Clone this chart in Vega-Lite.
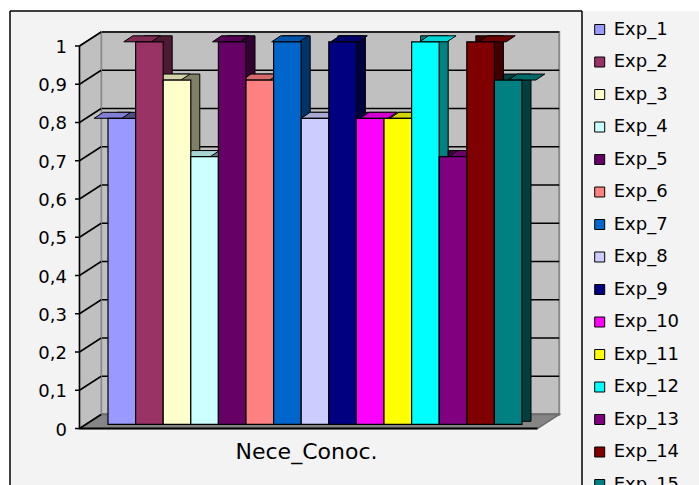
{
  "$schema": "https://vega.github.io/schema/vega-lite/v6.json",
  "width": 689,
  "height": 474,
  "autosize": "none",
  "padding": {"left": 10, "top": 11, "right": 0, "bottom": 0},
  "background": "white",
  "config": {
    "view": {"fill": "#F3F3F3", "stroke": null},
    "font": "DejaVu Sans",
    "locale": {"number": {"decimal": ",", "thousands": ".", "grouping": [3], "currency": ["", " €"]}}
  },
  "datasets": {
    "experts": [
      {"cat": "Nece_Conoc.", "exp": "Exp_1", "value": 0.8},
      {"cat": "Nece_Conoc.", "exp": "Exp_2", "value": 1.0},
      {"cat": "Nece_Conoc.", "exp": "Exp_3", "value": 0.9},
      {"cat": "Nece_Conoc.", "exp": "Exp_4", "value": 0.7},
      {"cat": "Nece_Conoc.", "exp": "Exp_5", "value": 1.0},
      {"cat": "Nece_Conoc.", "exp": "Exp_6", "value": 0.9},
      {"cat": "Nece_Conoc.", "exp": "Exp_7", "value": 1.0},
      {"cat": "Nece_Conoc.", "exp": "Exp_8", "value": 0.8},
      {"cat": "Nece_Conoc.", "exp": "Exp_9", "value": 1.0},
      {"cat": "Nece_Conoc.", "exp": "Exp_10", "value": 0.8},
      {"cat": "Nece_Conoc.", "exp": "Exp_11", "value": 0.8},
      {"cat": "Nece_Conoc.", "exp": "Exp_12", "value": 1.0},
      {"cat": "Nece_Conoc.", "exp": "Exp_13", "value": 0.7},
      {"cat": "Nece_Conoc.", "exp": "Exp_14", "value": 1.0},
      {"cat": "Nece_Conoc.", "exp": "Exp_15", "value": 0.9}
    ],
    "ticks": [
      {"v": 0}, {"v": 0.1}, {"v": 0.2}, {"v": 0.3}, {"v": 0.4}, {"v": 0.5},
      {"v": 0.6}, {"v": 0.7}, {"v": 0.8}, {"v": 0.9}, {"v": 1}
    ]
  },
  "data": {"name": "experts"},
  "resolve": {
    "scale": {"x": "independent", "xOffset": "independent", "color": "independent"},
    "axis": {"x": "independent"},
    "legend": {"color": "independent"}
  },
  "layer": [
    {
      "data": {"values": [{}]},
      "mark": {"type": "rect", "fill": "#C0C0C0", "stroke": "#8A8A8A", "strokeWidth": 2,
               "xOffset": 21.7, "x2Offset": 21.7, "yOffset": -14, "y2Offset": -14},
      "encoding": {
        "x": {"datum": 0, "type": "quantitative", "scale": {"domain": [-0.151747, 1.35262], "nice": false, "zero": false}, "axis": null},
        "x2": {"datum": 1},
        "y": {"datum": 0, "type": "quantitative", "scale": {"domain": [-0.147712, 1.091503], "nice": false, "zero": false}, "axis": null},
        "y2": {"datum": 1}
      }
    },
    {
      "data": {"name": "ticks"},
      "mark": {"type": "rule", "color": "black", "strokeWidth": 1.5,
               "xOffset": 21.7, "x2Offset": 21.7, "yOffset": -14},
      "encoding": {
        "x": {"datum": 0, "type": "quantitative", "scale": {"domain": [-0.151747, 1.35262], "nice": false, "zero": false}, "axis": null},
        "x2": {"datum": 1},
        "y": {"field": "v", "type": "quantitative", "scale": {"domain": [-0.147712, 1.091503], "nice": false, "zero": false}, "axis": null}
      }
    },
    {
      "data": {"values": [{}]},
      "mark": {"type": "point", "shape": "M0,0 L0,-382.5 L21.7,-396.5 L21.7,-14 Z", "size": 4,
               "filled": true, "fill": "#C0C0C0", "stroke": "#8A8A8A", "strokeWidth": 1.5, "opacity": 1},
      "encoding": {
        "x": {"datum": 0, "type": "quantitative", "scale": {"domain": [-0.151747, 1.35262], "nice": false, "zero": false}, "axis": null},
        "y": {"datum": 0, "type": "quantitative", "scale": {"domain": [-0.147712, 1.091503], "nice": false, "zero": false}, "axis": null}
      }
    },
    {
      "data": {"values": [{}]},
      "mark": {"type": "point", "shape": "M0,0 L458,0 L479.7,-14 L21.7,-14 Z", "size": 4,
               "filled": true, "fill": "#858585", "stroke": "#6E6E6E", "strokeWidth": 1.5, "opacity": 1},
      "encoding": {
        "x": {"datum": 0, "type": "quantitative", "scale": {"domain": [-0.151747, 1.35262], "nice": false, "zero": false}, "axis": null},
        "y": {"datum": 0, "type": "quantitative", "scale": {"domain": [-0.147712, 1.091503], "nice": false, "zero": false}, "axis": null}
      }
    },
    {
      "data": {"name": "ticks"},
      "mark": {"type": "rule", "color": "black", "strokeWidth": 1.5, "x2Offset": 21.7, "y2Offset": -14},
      "encoding": {
        "x": {"datum": 0, "type": "quantitative", "scale": {"domain": [-0.151747, 1.35262], "nice": false, "zero": false}, "axis": null},
        "x2": {"datum": 0},
        "y": {"field": "v", "type": "quantitative", "scale": {"domain": [-0.147712, 1.091503], "nice": false, "zero": false}, "axis": null},
        "y2": {"field": "v"}
      }
    },
    {
      "data": {"name": "ticks"},
      "mark": {"type": "rule", "color": "black", "strokeWidth": 1.5, "xOffset": -4.5},
      "encoding": {
        "x": {"datum": 0, "type": "quantitative", "scale": {"domain": [-0.151747, 1.35262], "nice": false, "zero": false}, "axis": null},
        "x2": {"datum": 0},
        "y": {"field": "v", "type": "quantitative", "scale": {"domain": [-0.147712, 1.091503], "nice": false, "zero": false}, "axis": null}
      }
    },
    {
      "data": {"name": "ticks"},
      "mark": {"type": "text", "align": "right", "baseline": "middle", "dx": -12.5, "dy": 2,
               "font": "DejaVu Sans", "fontSize": 18, "color": "black"},
      "encoding": {
        "x": {"datum": 0, "type": "quantitative", "scale": {"domain": [-0.151747, 1.35262], "nice": false, "zero": false}, "axis": null},
        "y": {"field": "v", "type": "quantitative", "scale": {"domain": [-0.147712, 1.091503], "nice": false, "zero": false}, "axis": null},
        "text": {"field": "v", "type": "quantitative", "format": ".1~f"}
      }
    },
    {
      "mark": {"type": "bar", "stroke": "black", "strokeWidth": 1, "yOffset": -10.2, "y2Offset": -7.2},
      "encoding": {
        "x": {"field": "cat", "type": "nominal", "axis": null,
              "scale": {"domain": ["Nece_Conoc."], "paddingInner": 0, "paddingOuter": 0.332126, "align": 0.389091}},
        "xOffset": {"field": "exp", "type": "nominal",
                    "scale": {"domain": ["Exp_1","Exp_2","Exp_3","Exp_4","Exp_5","Exp_6","Exp_7","Exp_8","Exp_9","Exp_10","Exp_11","Exp_12","Exp_13","Exp_14","Exp_15"], "paddingInner": 0, "paddingOuter": 0}},
        "y": {"field": "value", "type": "quantitative", "scale": {"domain": [-0.147712, 1.091503], "nice": false, "zero": false}, "axis": null},
        "y2": {"datum": 0},
        "color": {"field": "exp", "type": "nominal", "legend": null,
                  "scale": {"domain": ["Exp_1","Exp_2","Exp_3","Exp_4","Exp_5","Exp_6","Exp_7","Exp_8","Exp_9","Exp_10","Exp_11","Exp_12","Exp_13","Exp_14","Exp_15"],
                            "range": ["#4D4D80","#4D1A33","#808066","#668080","#330033","#804040","#003366","#666680","#000040","#800080","#808000","#008080","#400040","#400000","#004040"]}}
      }
    },
    {
      "mark": {"type": "point", "shape": "M-13.8,0 L13.8,0 L22.8,-6 L-4.8,-6 Z", "size": 4,
               "filled": true, "stroke": "black", "strokeWidth": 1, "opacity": 1, "yOffset": -4.2},
      "encoding": {
        "x": {"field": "cat", "type": "nominal", "axis": null,
              "scale": {"domain": ["Nece_Conoc."], "paddingInner": 0, "paddingOuter": 0.332126, "align": 0.356364}},
        "xOffset": {"field": "exp", "type": "nominal",
                    "scale": {"domain": ["Exp_1","Exp_2","Exp_3","Exp_4","Exp_5","Exp_6","Exp_7","Exp_8","Exp_9","Exp_10","Exp_11","Exp_12","Exp_13","Exp_14","Exp_15"], "paddingInner": 0, "paddingOuter": 0}},
        "y": {"field": "value", "type": "quantitative", "scale": {"domain": [-0.147712, 1.091503], "nice": false, "zero": false}, "axis": null},
        "color": {"field": "exp", "type": "nominal", "legend": null,
                  "scale": {"domain": ["Exp_1","Exp_2","Exp_3","Exp_4","Exp_5","Exp_6","Exp_7","Exp_8","Exp_9","Exp_10","Exp_11","Exp_12","Exp_13","Exp_14","Exp_15"],
                            "range": ["#7F7FD4","#7F2A55","#D4D4A9","#A9D4D4","#550055","#D46A6A","#0055A9","#A9A9D4","#00006A","#D400D4","#D4D400","#00D4D4","#6A006A","#6A0000","#006A6A"]}}
      }
    },
    {
      "mark": {"type": "bar", "stroke": "black", "strokeWidth": 1.2, "yOffset": -4.2, "y2Offset": -4.2},
      "encoding": {
        "x": {"field": "cat", "type": "nominal",
              "scale": {"domain": ["Nece_Conoc."], "paddingInner": 0, "paddingOuter": 0.332126, "align": 0.356364},
              "axis": {"title": null, "domain": false, "ticks": false, "tickSize": 0, "labelPadding": 0,
                       "labelBaseline": "alphabetic", "labelAngle": 0, "offset": -27, "labelOffset": -8.5,
                       "labelFont": "DejaVu Sans", "labelFontSize": 22, "labelColor": "black", "labelLimit": 400}},
        "xOffset": {"field": "exp", "type": "nominal",
                    "scale": {"domain": ["Exp_1","Exp_2","Exp_3","Exp_4","Exp_5","Exp_6","Exp_7","Exp_8","Exp_9","Exp_10","Exp_11","Exp_12","Exp_13","Exp_14","Exp_15"], "paddingInner": 0, "paddingOuter": 0}},
        "y": {"field": "value", "type": "quantitative",
              "scale": {"domain": [-0.147712, 1.091503], "nice": false, "zero": false}, "axis": null},
        "y2": {"datum": 0},
        "color": {"field": "exp", "type": "nominal",
                  "scale": {"domain": ["Exp_1","Exp_2","Exp_3","Exp_4","Exp_5","Exp_6","Exp_7","Exp_8","Exp_9","Exp_10","Exp_11","Exp_12","Exp_13","Exp_14","Exp_15"],
                            "range": ["#9999FF","#993366","#FFFFCC","#CCFFFF","#660066","#FF8080","#0066CC","#CCCCFF","#000080","#FF00FF","#FFFF00","#00FFFF","#800080","#800000","#008080"]},
                  "legend": {"orient": "none", "legendX": 580.7, "legendY": 9.5, "title": null, "padding": 0,
                             "symbolType": "square", "symbolSize": 100, "symbolStrokeColor": "black", "symbolStrokeWidth": 1,
                             "symbolOpacity": 1, "labelFont": "DejaVu Sans", "labelFontSize": 18, "labelColor": "black",
                             "labelOffset": 5, "rowPadding": 14.5, "labelLimit": 200}}
      }
    },
    {
      "data": {"values": [{}]},
      "mark": {"type": "rule", "color": "black", "strokeWidth": 1.5},
      "encoding": {
        "x": {"datum": 0, "type": "quantitative", "scale": {"domain": [-0.151747, 1.35262], "nice": false, "zero": false}, "axis": null},
        "y": {"datum": 0, "type": "quantitative", "scale": {"domain": [-0.147712, 1.091503], "nice": false, "zero": false}, "axis": null},
        "y2": {"datum": 1}
      }
    },
    {
      "data": {"values": [{}]},
      "mark": {"type": "rule", "color": "black", "strokeWidth": 2},
      "encoding": {
        "x": {"datum": 0, "type": "quantitative", "scale": {"domain": [-0.151747, 1.35262], "nice": false, "zero": false}, "axis": null},
        "x2": {"datum": 1},
        "y": {"datum": 0, "type": "quantitative", "scale": {"domain": [-0.147712, 1.091503], "nice": false, "zero": false}, "axis": null}
      }
    },
    {
      "data": {"values": [{}]},
      "mark": {"type": "rule", "color": "black", "strokeWidth": 1.5},
      "encoding": {
        "x": {"datum": -0.151747, "type": "quantitative", "scale": {"domain": [-0.151747, 1.35262], "nice": false, "zero": false}, "axis": null},
        "y": {"datum": -0.147712, "type": "quantitative", "scale": {"domain": [-0.147712, 1.091503], "nice": false, "zero": false}, "axis": null},
        "y2": {"datum": 1.091503}
      }
    },
    {
      "data": {"values": [{}]},
      "mark": {"type": "rule", "color": "black", "strokeWidth": 1.5},
      "encoding": {
        "x": {"datum": -0.151747, "type": "quantitative", "scale": {"domain": [-0.151747, 1.35262], "nice": false, "zero": false}, "axis": null},
        "x2": {"datum": 1.097162},
        "y": {"datum": 1.091503, "type": "quantitative", "scale": {"domain": [-0.147712, 1.091503], "nice": false, "zero": false}, "axis": null}
      }
    },
    {
      "data": {"values": [{}]},
      "mark": {"type": "rule", "color": "black", "strokeWidth": 1.5},
      "encoding": {
        "x": {"datum": 1.097162, "type": "quantitative", "scale": {"domain": [-0.151747, 1.35262], "nice": false, "zero": false}, "axis": null},
        "y": {"datum": -0.147712, "type": "quantitative", "scale": {"domain": [-0.147712, 1.091503], "nice": false, "zero": false}, "axis": null},
        "y2": {"datum": 1.091503}
      }
    }
  ]
}
